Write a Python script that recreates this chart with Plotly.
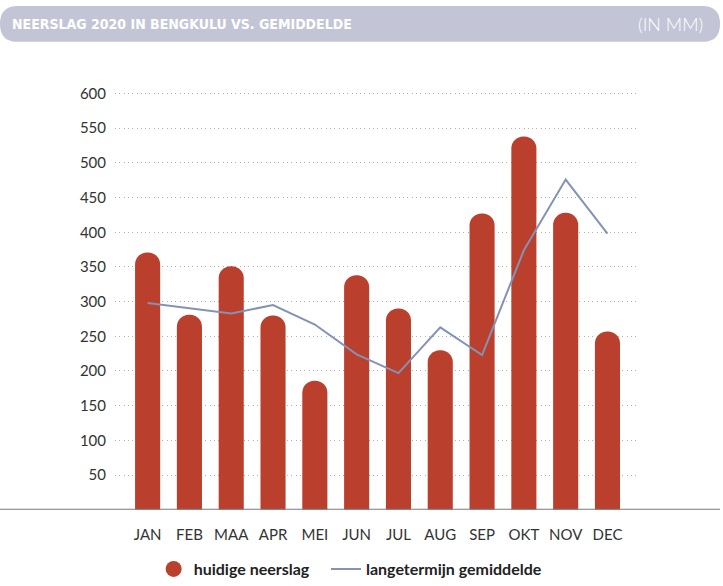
import plotly.graph_objects as go

W, H = 723, 586

months = ['JAN', 'FEB', 'MAA', 'APR', 'MEI', 'JUN', 'JUL', 'AUG', 'SEP', 'OKT', 'NOV', 'DEC']
neerslag_2020 = [371, 281, 351, 280, 186, 338, 290, 230, 427, 538, 428, 257]
gemiddelde = [298, 291, 283, 295, 267, 224, 197, 263, 223, 374, 476, 398]
y_ticks = [50, 100, 150, 200, 250, 300, 350, 400, 450, 500, 550, 600]

RED = '#bb3f2d'
LINE = '#8492b3'
BANNER = '#c3c5d6'
TEXT = '#333333'
FONT = 'Lato'
TITLE_FONT = 'Noto Sans ExtraCondensed, Noto Sans Condensed, DejaVu Sans Condensed, Roboto'


def px(x, y):
    # pixel -> paper coordinates (margins are zero)
    return x / W, 1 - y / H


def pill_path(x0, y0, x1, y1, r):
    def p(x, y):
        a, b = px(x, y)
        return f'{a:.5f},{b:.5f}'
    return (f'M {p(x0 + r, y0)} L {p(x1 - r, y0)} Q {p(x1, y0)} {p(x1, y0 + r)} '
            f'L {p(x1, y1 - r)} Q {p(x1, y1)} {p(x1 - r, y1)} '
            f'L {p(x0 + r, y1)} Q {p(x0, y1)} {p(x0, y1 - r)} '
            f'L {p(x0, y0 + r)} Q {p(x0, y0)} {p(x0 + r, y0)} Z')


fig = go.Figure()
fig.add_trace(go.Bar(
    x=months,
    y=neerslag_2020,
    width=0.6,
    marker={'color': RED, 'cornerradius': '50%', 'line': {'width': 0}},
    showlegend=False,
))
# legend-only entry so the bar series shows as a round dot
fig.add_trace(go.Scatter(
    x=[None], y=[None],
    mode='markers',
    marker={'color': RED, 'size': 17, 'symbol': 'circle'},
    name='huidige neerslag\u00a0\u00a0\u00a0',
))
fig.add_trace(go.Scatter(
    x=months,
    y=gemiddelde,
    mode='lines',
    line={'color': LINE, 'width': 2},
    name='langetermijn gemiddelde',
))

x_dom = [115 / W, 638 / W]
y_dom = [1 - 515.5 / H, 1 - (515.5 - 610 * 0.7056) / H]

fig.update_layout(
    width=W, height=H,
    margin={'l': 0, 'r': 0, 't': 0, 'b': 0},
    paper_bgcolor='white',
    plot_bgcolor='white',
    font={'family': FONT, 'color': TEXT, 'size': 15},
    xaxis={
        'domain': x_dom,
        'range': [-0.78, 11.73],
        'showgrid': False,
        'showline': False,
        'ticks': '',
        'ticklabelstandoff': 14,
        'tickfont': {'size': 15, 'color': TEXT},
        'fixedrange': True,
    },
    yaxis={
        'domain': y_dom,
        'range': [0, 610],
        'tickvals': y_ticks,
        'showgrid': True,
        'gridcolor': '#b0b0b0',
        'griddash': '1px,3.3px',
        'gridwidth': 1,
        'zeroline': False,
        'showline': False,
        'ticks': '',
        'ticklabelstandoff': 8,
        'tickfont': {'size': 15, 'color': TEXT},
    },
    legend={
        'orientation': 'h',
        'x': 0.485, 'xanchor': 'center',
        'y': 1 - 576 / H, 'yanchor': 'middle',
        'font': {'size': 16, 'color': '#222222', 'family': FONT, 'weight': 'bold'},
        'itemwidth': 30,
        'tracegroupgap': 0,
    },
    shapes=[
        {'type': 'path', 'xref': 'paper', 'yref': 'paper',
         'path': pill_path(0, 3, 720, 39.5, 18),
         'fillcolor': BANNER, 'line': {'width': 0}, 'layer': 'below'},
        {'type': 'line', 'xref': 'paper', 'yref': 'y',
         'x0': 0, 'x1': 720 / W, 'y0': 0, 'y1': 0,
         'line': {'color': '#7a7a7a', 'width': 2}},
    ],
    annotations=[
        {'text': 'NEERSLAG 2020 IN BENGKULU VS. GEMIDDELDE',
         'xref': 'paper', 'yref': 'paper',
         'x': 10 / W, 'y': 1 - 21 / H, 'xanchor': 'left', 'yanchor': 'middle',
         'showarrow': False,
         'font': {'family': TITLE_FONT, 'size': 14, 'color': 'white', 'weight': 'bold'}},
        {'text': '(IN MM)',
         'xref': 'paper', 'yref': 'paper',
         'x': 705 / W, 'y': 1 - 21 / H, 'xanchor': 'right', 'yanchor': 'middle',
         'showarrow': False,
         'font': {'family': FONT, 'size': 18, 'color': 'white', 'weight': 300}},
    ],
)

fig.write_html('out.html', config={'displayModeBar': False},
               post_script="document.body.style.margin = '0';")
